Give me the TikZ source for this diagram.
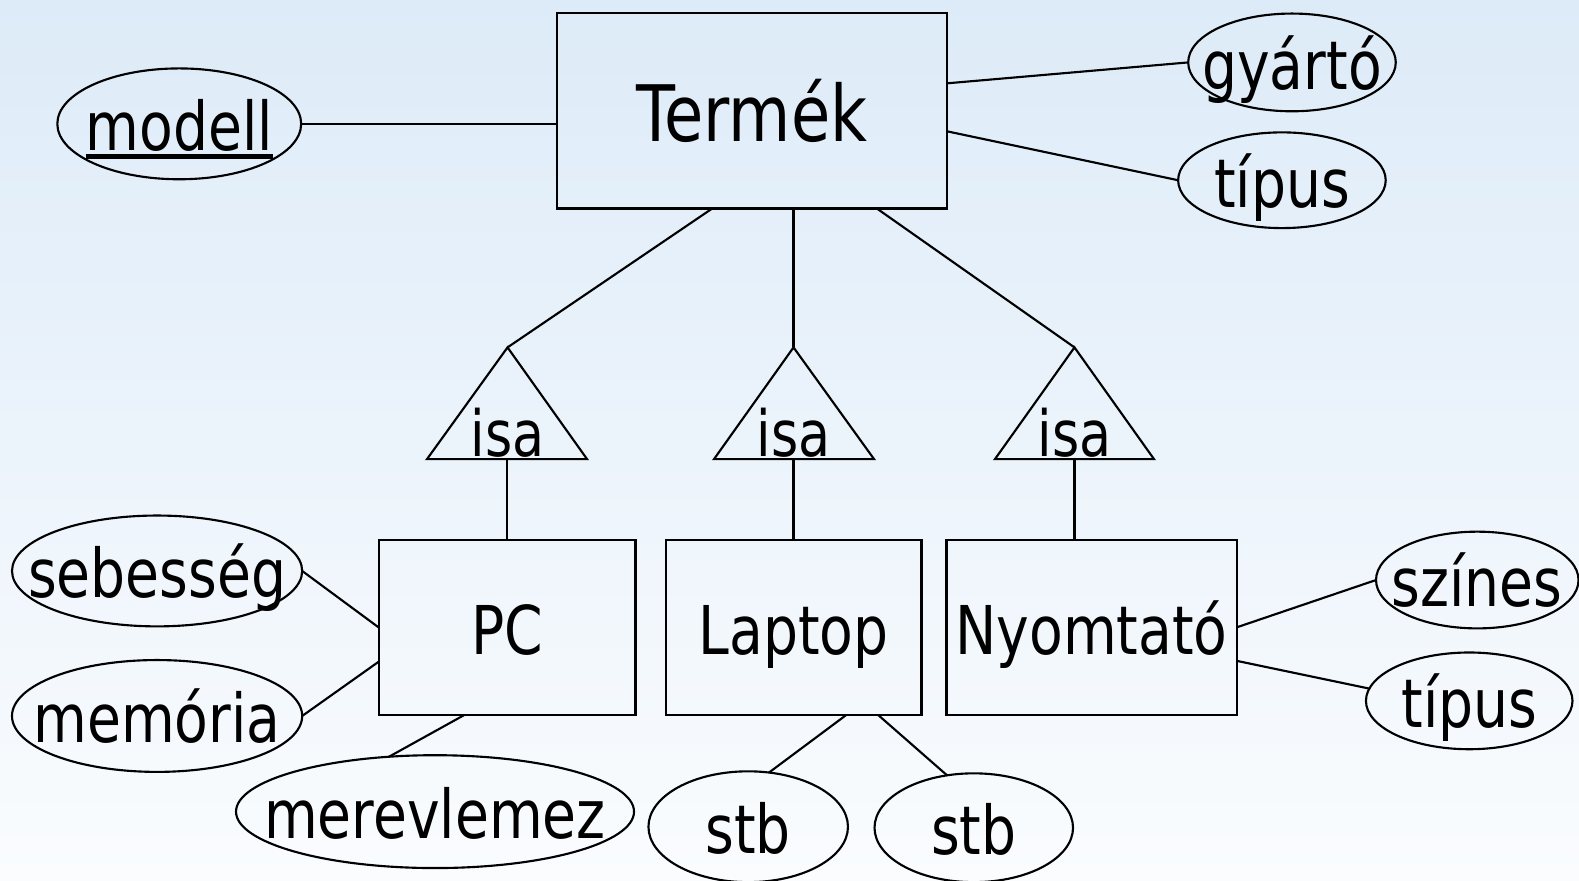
\documentclass[tikz,border=0pt]{standalone}
\usepackage{fontspec}
\setmainfont[FakeStretch=0.82]{DejaVu Sans}
\usetikzlibrary{shapes.geometric}
\definecolor{skytop}{RGB}{221,235,248}
\definecolor{skymid}{RGB}{240,246,252}
\definecolor{skybot}{RGB}{250,252,254}
\newcommand{\keyattr}[1]{\setbox0\hbox{#1}\rlap{\rule[-.12em]{\wd0}{.075em}}\box0}
\newcommand{\ctext}[1]{\makebox[0pt]{\raisebox{-.4em}[0pt][0pt]{#1}}}

\begin{document}
\begin{tikzpicture}[x=0.01cm,y=-0.01cm,semithick,
    entity/.style={draw,rectangle,inner sep=0pt,outer sep=0pt,text height=19pt,text depth=3.8pt,font=\fontsize{19}{19}\selectfont},
    attrib/.style={draw,ellipse,inner sep=0pt,outer sep=0pt,font=\fontsize{19}{19}\selectfont},
    isatext/.style={anchor=base,inner sep=0pt,font=\fontsize{18}{18}\selectfont}]
		\useasboundingbox (0,0) rectangle (1568,874);
		\shade[top color=skytop,middle color=skymid,bottom color=skybot] (0,0) rectangle (1568,874);

		% entitasok
		\node[entity,minimum width=3.87cm,minimum height=1.94cm,text height=22pt,text depth=4.4pt,font=\fontsize{22}{22}\selectfont] (termek) at (746.5,110) {Termék};
		\node[entity,minimum width=2.55cm,minimum height=1.74cm] (pc) at (503.5,623) {PC};
		\node[entity,minimum width=2.54cm,minimum height=1.74cm] (laptop) at (788,623) {Laptop};
		\node[entity,minimum width=2.88cm,minimum height=1.74cm] (nyomtato) at (1084,623) {Nyomtató};

		% attributumok
		\node[attrib,minimum width=2.42cm,minimum height=1.10cm] (modell) at (178,123) {\ctext{\keyattr{modell}}};
		\node[attrib,minimum width=2.06cm,minimum height=0.97cm] (gyarto) at (1283,62) {\ctext{gyártó}};
		\node[attrib,minimum width=2.06cm,minimum height=0.95cm] (tipus) at (1273,179) {\ctext{típus}};
		\node[attrib,minimum width=2.88cm,minimum height=1.10cm] (sebesseg) at (156,567) {\ctext{sebesség}};
		\node[attrib,minimum width=2.88cm,minimum height=1.11cm] (memoria) at (156,711) {\ctext{memória}};
		\node[attrib,minimum width=3.95cm,minimum height=1.12cm] (merevlemez) at (432,806) {\ctext{merevlemez}};
		\node[attrib,minimum width=1.98cm,minimum height=1.10cm] (stba) at (743,821) {\ctext{stb}};
		\node[attrib,minimum width=1.97cm,minimum height=1.08cm] (stbb) at (967,822) {\ctext{stb}};
		\node[attrib,minimum width=2.01cm,minimum height=0.96cm] (szines) at (1467,576) {\ctext{színes}};
		\node[attrib,minimum width=2.05cm,minimum height=0.96cm] (nytipus) at (1459,696) {\ctext{típus}};

		% isa haromszogek
		\coordinate (top1) at (504,345);
		\coordinate (top2) at (788,345);
		\coordinate (top3) at (1067,345);
		\draw (top1) -- ++(-80,111) coordinate (bot1) -- ++(159,0) -- cycle;
		\draw (top2) -- ++(-79,111) coordinate (bot2) -- ++(159,0) -- cycle;
		\draw (top3) -- ++(-79,111) coordinate (bot3) -- ++(158,0) -- cycle;
		\node[isatext] (isa1) at (504,453) {isa};
		\node[isatext] (isa2) at (788,453) {isa};
		\node[isatext] (isa3) at (1067,453) {isa};

		\draw (termek.248) -- (top1);
		\draw (termek.south -| top2) -- (top2);
		\draw (termek.-38) -- (top3);
		\draw (pc.north) -- (pc.north |- bot1);
		\draw (laptop.north) -- (laptop.north |- bot2);
		\draw (nyomtato.north -| top3) -- (top3 |- bot3);

		\draw (modell.east) -- (modell.east -| termek.west);
		\draw (termek.8) -- (gyarto.west);
		\draw (termek.-6) -- (tipus.west);
		\draw (sebesseg.east) -- (pc.west);
		\draw (memoria.east) -- (pc.195);
		\draw (merevlemez.130) -- (pc.244);
		\draw (laptop.-59) -- (stba.69);
		\draw (laptop.-46) -- (stbb.117);
		\draw (nyomtato.east) -- (szines.west);
		\draw (nyomtato.-13) -- (nytipus.173);
\end{tikzpicture}
\end{document}
